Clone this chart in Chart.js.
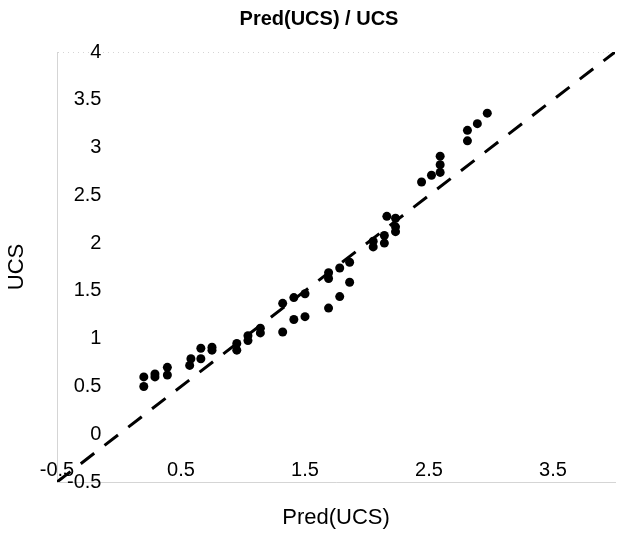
<!DOCTYPE html>
<html>
<head>
<meta charset="utf-8">
<script src="https://cdn.jsdelivr.net/npm/chart.js@4/dist/chart.umd.min.js"></script>
<style>
  html, body { margin: 0; padding: 0; background: #ffffff; }
  canvas { display: block; }
</style>
</head>
<body>
<canvas id="chart" width="624" height="533"></canvas>
<script>
// Predicted vs measured UCS
const predUcs = [
  0.20, 0.20, 0.29, 0.29, 0.39, 0.39,
  0.57, 0.58, 0.66, 0.66, 0.75, 0.75,
  0.95, 0.95, 1.04, 1.04, 1.14, 1.14,
  1.32, 1.32, 1.41, 1.41, 1.50, 1.50,
  1.69, 1.69, 1.69, 1.78, 1.78, 1.86, 1.86,
  2.05, 2.05, 2.14, 2.14, 2.16, 2.23, 2.23, 2.23,
  2.44, 2.52, 2.59, 2.59, 2.59,
  2.81, 2.81, 2.89, 2.97
];
const ucs = [
  0.60, 0.50, 0.63, 0.60, 0.70, 0.62,
  0.72, 0.79, 0.90, 0.79, 0.91, 0.88,
  0.95, 0.88, 1.03, 0.98, 1.11, 1.06,
  1.37, 1.07, 1.43, 1.20, 1.47, 1.23,
  1.69, 1.63, 1.32, 1.74, 1.44, 1.80, 1.59,
  1.96, 2.02, 2.00, 2.08, 2.28, 2.26, 2.17, 2.12,
  2.64, 2.71, 2.74, 2.82, 2.91,
  3.07, 3.18, 3.25, 3.36
];

// 1:1 reference line
const refX = [-0.5, 4];
const refY = [-0.5, 4];

// Axis ticks
const xTickValues = [-0.5, 0.5, 1.5, 2.5, 3.5];
const xTickLabels = ['-0.5', '0.5', '1.5', '2.5', '3.5'];
const yTickValues = [-0.5, 0, 0.5, 1, 1.5, 2, 2.5, 3, 3.5, 4];
const yTickLabels = ['-0.5', '0', '0.5', '1', '1.5', '2', '2.5', '3', '3.5', '4'];

const chartTitle = 'Pred(UCS) / UCS';
const xTitle = 'Pred(UCS)';
const yTitle = 'UCS';

const FONT = "'Liberation Sans', Arial, Helvetica, sans-serif";
const dotted = 'rgba(185,185,185,0.6)';

const headingPlugin = {
  id: 'heading',
  afterDraw(chart) {
    const ctx = chart.ctx;
    ctx.save();
    ctx.fillStyle = '#000';
    ctx.font = 'bold 20px ' + FONT;
    ctx.textAlign = 'center';
    ctx.textBaseline = 'middle';
    ctx.fillText(chartTitle, 319, 19);
    ctx.restore();
  }
};

new Chart(document.getElementById('chart'), {
  type: 'scatter',
  data: {
    datasets: [
      {
        label: 'UCS',
        data: predUcs.map((x, i) => ({ x: x, y: ucs[i] })),
        backgroundColor: '#000',
        borderColor: '#000',
        borderWidth: 0,
        pointRadius: 4.5,
        pointHoverRadius: 4.5
      },
      {
        label: '1:1',
        data: refX.map((x, i) => ({ x: x, y: refY[i] })),
        showLine: true,
        borderColor: '#000',
        borderWidth: 3,
        borderDash: [17, 13],
        pointRadius: 0,
        fill: false
      }
    ]
  },
  options: {
    responsive: false,
    animation: false,
    layout: { padding: { top: 52, right: 9, bottom: 0, left: 0 } },
    plugins: {
      legend: { display: false },
      tooltip: { enabled: false },
      title: { display: false }
    },
    scales: {
      x: {
        type: 'linear',
        position: 'bottom',
        min: -0.5,
        max: 4,
        afterBuildTicks: s => { s.ticks = xTickValues.map(v => ({ value: v })); },
        afterFit: s => { s.height = 51; },
        ticks: {
          mirror: true,
          padding: 0,
          color: '#000',
          font: { family: FONT, size: 20 },
          maxRotation: 0,
          autoSkip: false,
          callback: (v, i) => xTickLabels[i]
        },
        grid: { display: false, drawTicks: false },
        border: { display: true, color: dotted, width: 1, dash: [1, 4] },
        title: {
          display: true,
          text: xTitle,
          color: '#000',
          font: { family: FONT, size: 22 },
          padding: { top: 0, bottom: 2 }
        }
      },
      y: {
        type: 'linear',
        position: 'left',
        min: -0.5,
        max: 4,
        afterBuildTicks: s => { s.ticks = yTickValues.map(v => ({ value: v })); },
        afterFit: s => { s.width = 57; },
        ticks: {
          mirror: true,
          crossAlign: 'far',
          padding: 10,
          color: '#000',
          font: { family: FONT, size: 20 },
          autoSkip: false,
          callback: (v, i) => yTickLabels[i]
        },
        grid: {
          display: true,
          drawTicks: false,
          color: c => (c.tick && c.tick.value === 4 ? dotted : 'rgba(0,0,0,0)'),
          borderDash: [1, 4],
          lineWidth: 1
        },
        border: { display: true, color: dotted, width: 1, dash: [1, 4] },
        title: {
          display: true,
          text: yTitle,
          color: '#000',
          font: { family: FONT, size: 22 },
          padding: { top: 4, bottom: 0 }
        }
      }
    }
  },
  plugins: [headingPlugin]
});
</script>
</body>
</html>
